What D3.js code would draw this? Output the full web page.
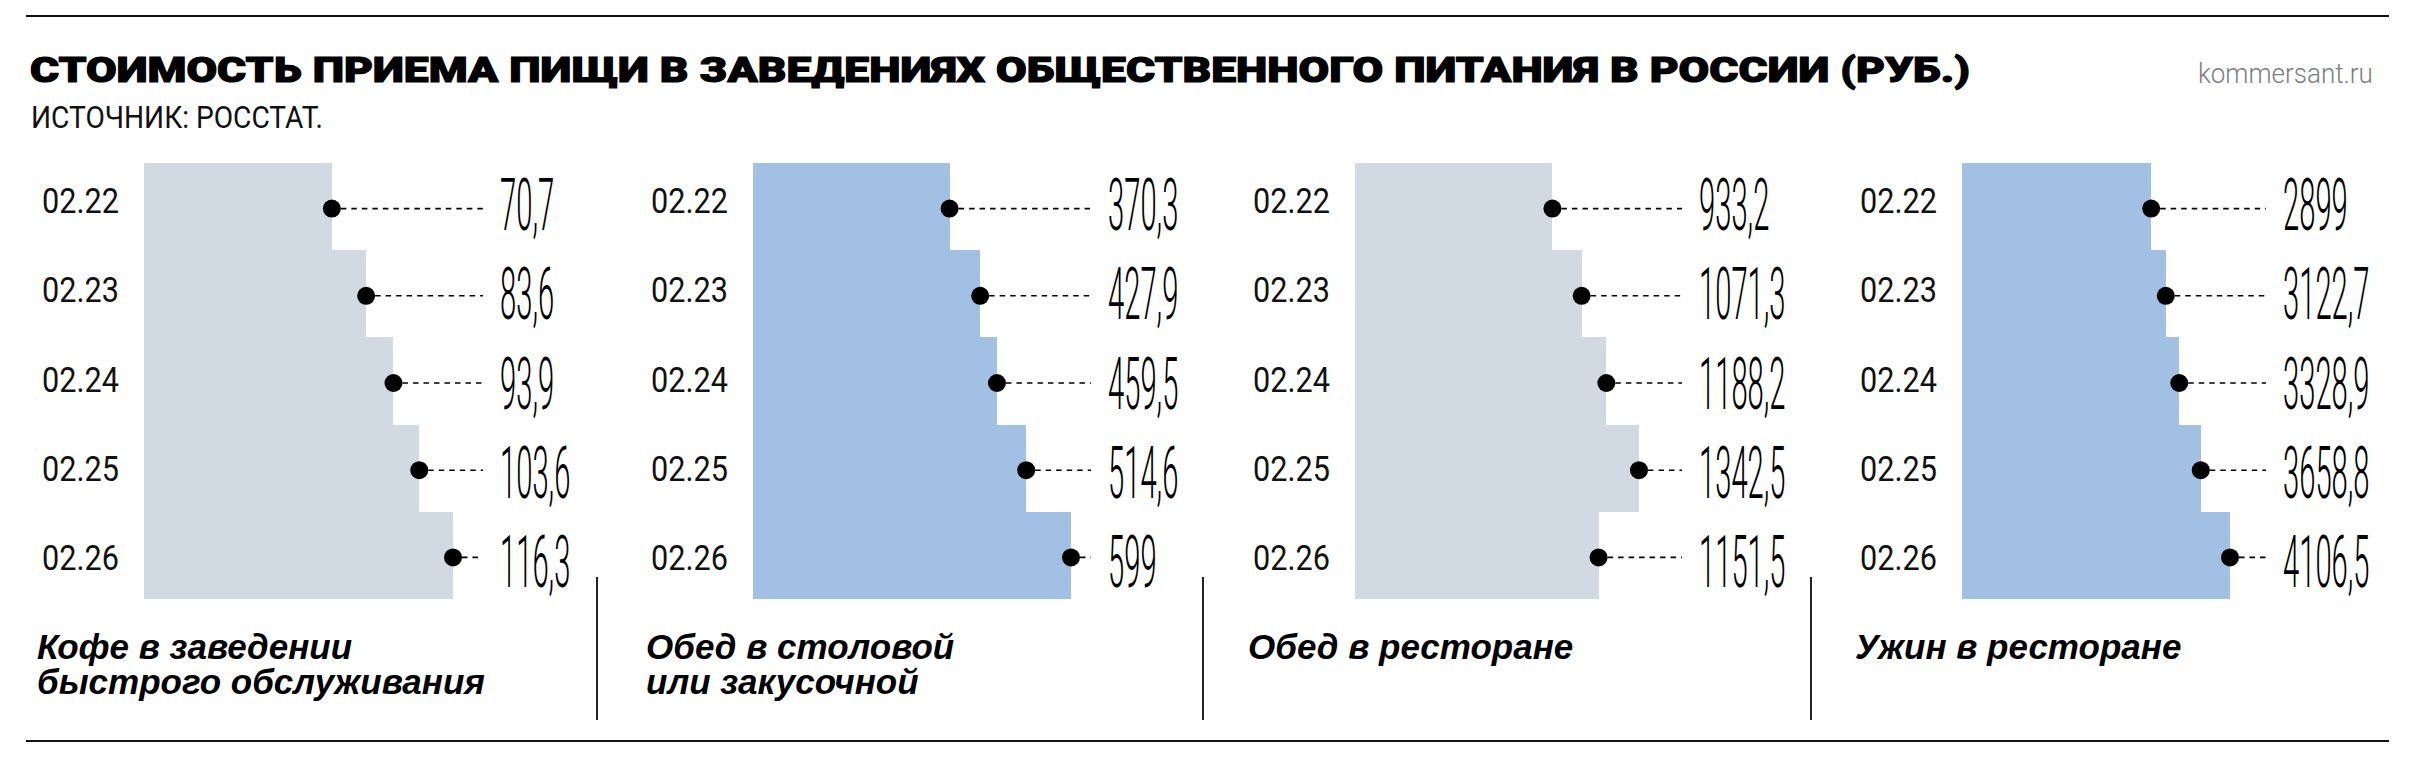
<!DOCTYPE html>
<html>
<head>
<meta charset="utf-8">
<script src="https://cdn.jsdelivr.net/npm/d3@7"></script>
<style>
  body { margin: 0; background: #fff; }
  svg { display: block; }
</style>
</head>
<body>
<div id="chart"></div>
<script>
// data
var dates = ['02.22', '02.23', '02.24', '02.25', '02.26'];
var coffee = [70.7, 83.6, 93.9, 103.6, 116.3];
var canteen = [370.3, 427.9, 459.5, 514.6, 599];
var lunch = [933.2, 1071.3, 1188.2, 1342.5, 1151.5];
var dinner = [2899, 3122.7, 3328.9, 3658.8, 4106.5];
var panelNames = [
  ['Кофе в заведении', 'быстрого обслуживания'],
  ['Обед в столовой', 'или закусочной'],
  ['Обед в ресторане'],
  ['Ужин в ресторане']
];
var title = 'СТОИМОСТЬ ПРИЕМА ПИЩИ В ЗАВЕДЕНИЯХ ОБЩЕСТВЕННОГО ПИТАНИЯ В РОССИИ (РУБ.)';
var source = 'ИСТОЧНИК: РОССТАТ.';
var site = 'kommersant.ru';

var series = [coffee, canteen, lunch, dinner];

// layout
var W = 2410, H = 762;
var barLeft = [144, 753, 1355, 1962];
var barSpan = [309, 318, 284, 268];
var valueX = [500, 1108, 1699, 2283];
var dividers = [597, 1203, 1811];
var colors = ['#d1d9e3', '#a2bfe4', '#d1d9e3', '#a2bfe4'];

var ru = d3.formatLocale({decimal: ',', thousands: '', grouping: [3], currency: ['', '']});
var fmt = ru.format('.1~f');

var svg = d3.select('#chart').append('svg')
  .attr('width', W)
  .attr('height', H);

function fitText(g, txt, width) {
  var t = g.append('text').text(txt);
  var len = t.node().getComputedTextLength();
  t.attr('transform', 'scale(' + (width / len) + ',1)');
  return t;
}

// rules
svg.append('line').attr('x1', 26).attr('x2', 2389).attr('y1', 16).attr('y2', 16)
  .attr('stroke', '#111').attr('stroke-width', 2.2);
svg.append('line').attr('x1', 26).attr('x2', 2389).attr('y1', 741).attr('y2', 741)
  .attr('stroke', '#111').attr('stroke-width', 2.2);

// header
var gt = svg.append('g').attr('transform', 'translate(30,82)')
  .attr('font-family', 'Roboto, "DejaVu Sans", sans-serif')
  .attr('font-weight', 900).attr('font-size', 35).attr('fill', '#000')
  .attr('stroke', '#000').attr('stroke-width', 1.1);
fitText(gt, title, 1940);

var gs = svg.append('g').attr('transform', 'translate(31,128)')
  .attr('font-family', 'Roboto, sans-serif')
  .attr('font-weight', 400).attr('font-size', 31).attr('fill', '#111');
fitText(gs, source, 292);

var gk = svg.append('g').attr('transform', 'translate(2198,83)')
  .attr('font-family', 'Roboto, sans-serif')
  .attr('font-weight', 300).attr('font-size', 28).attr('fill', '#7d7d7d');
fitText(gk, site, 175);

// dividers
dividers.forEach(function(x) {
  svg.append('line').attr('x1', x).attr('x2', x).attr('y1', 577).attr('y2', 720)
    .attr('stroke', '#222').attr('stroke-width', 2);
});

var yBand = d3.scaleBand().domain(dates).range([163, 599]).paddingInner(0).paddingOuter(0);
var yLab = d3.scalePoint().domain(dates).range([200.5, 557.5]);

for (var p = 0; p < 4; p++) {
  var vals = series[p];
  var x0 = barLeft[p];
  var x = d3.scaleLinear().domain([0, d3.max(vals)]).range([x0, x0 + barSpan[p]]);
  var rows = dates.map(function(d, i) { return {date: d, value: vals[i]}; });
  var g = svg.append('g');

  // staircase bars
  g.selectAll('rect.bar').data(rows).enter().append('rect')
    .attr('class', 'bar')
    .attr('x', x0)
    .attr('y', function(d) { return yBand(d.date); })
    .attr('width', function(d) { return x(d.value) - x0; })
    .attr('height', yBand.bandwidth())
    .attr('fill', colors[p])
    .attr('shape-rendering', 'crispEdges');

  // leaders
  var lx = valueX[p] - 17;
  g.selectAll('line.lead').data(rows).enter().append('line')
    .attr('class', 'lead')
    .attr('x1', function(d) { return x(d.value) + 9; })
    .attr('x2', lx)
    .attr('y1', function(d) { return yBand(d.date) + yBand.bandwidth() / 2 + 2; })
    .attr('y2', function(d) { return yBand(d.date) + yBand.bandwidth() / 2 + 2; })
    .attr('stroke', '#000')
    .attr('stroke-width', 1.6)
    .attr('stroke-dasharray', '5.5,5');

  // dots
  g.selectAll('circle').data(rows).enter().append('circle')
    .attr('cx', function(d) { return x(d.value); })
    .attr('cy', function(d) { return yBand(d.date) + yBand.bandwidth() / 2 + 2; })
    .attr('r', 9)
    .attr('fill', '#000');

  // date labels
  rows.forEach(function(d) {
    var gd = g.append('g')
      .attr('transform', 'translate(' + (x0 - 102) + ',' + (yLab(d.date) + 12.5) + ')')
      .attr('font-family', 'Roboto, sans-serif')
      .attr('font-weight', 400)
      .attr('font-size', 35).attr('fill', '#111');
    fitText(gd, d.date, 77);
  });

  // value labels
  rows.forEach(function(d) {
    g.append('g')
      .attr('transform', 'translate(' + valueX[p] + ',' + (yLab(d.date) + 3.5 + 26) + ')')
      .append('text')
      .attr('transform', 'scale(0.4,1)')
      .attr('font-family', 'Roboto, sans-serif')
      .attr('font-weight', 300)
      .attr('font-size', 73)
      .attr('fill', '#000')
      .text(fmt(d.value));
  });

  // panel name
  var gn = g.append('text')
    .attr('x', x0 - 107)
    .attr('y', 659)
    .attr('font-family', '"Liberation Sans", Arial, sans-serif')
    .attr('font-weight', 700)
    .attr('font-style', 'italic')
    .attr('font-size', 35)
    .attr('fill', '#000');
  panelNames[p].forEach(function(line, i) {
    gn.append('tspan').attr('x', x0 - 107).attr('dy', i === 0 ? 0 : 35).text(line);
  });
}
</script>
</body>
</html>
